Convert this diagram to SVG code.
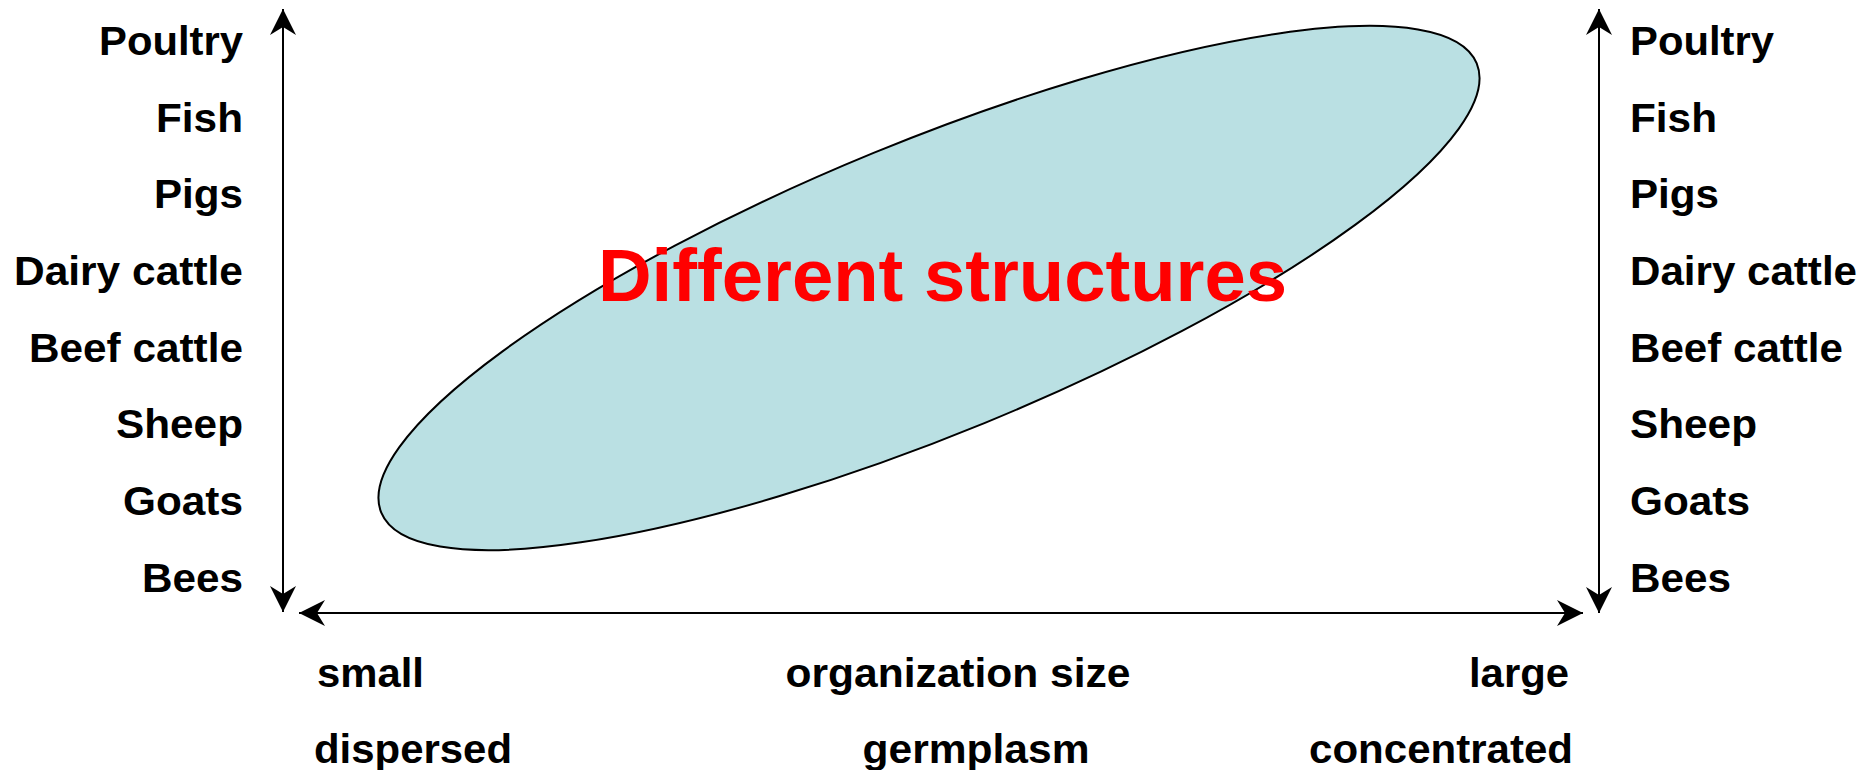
<svg xmlns="http://www.w3.org/2000/svg" width="1874" height="770" viewBox="0 0 1874 770">
  <style>
    .lbl { font-family: "Liberation Sans", Arial, sans-serif; font-weight: bold; font-size: 40px; fill: #000; }
    .end { text-anchor: end; }
    .mid { text-anchor: middle; }
    .axis { stroke: #000; stroke-width: 2; fill: none; }
    .title { font-family: "Liberation Sans", Arial, sans-serif; font-weight: bold; font-size: 75px; fill: #FF0000; }
  </style>
  <defs>
    <marker id="arr" markerUnits="userSpaceOnUse" viewBox="-27 -15 30 30" refX="0" refY="0" markerWidth="30" markerHeight="30" orient="auto-start-reverse">
      <path d="M0,0 L-26,-13 L-18,0 L-26,13 Z" fill="#000"/>
    </marker>
  </defs>
  <rect width="1874" height="770" fill="#fff"/>

  <g id="ellipse">
    <ellipse cx="929" cy="288" rx="592" ry="146" transform="rotate(-22.3 929 288)" fill="#BAE0E3" stroke="#000" stroke-width="2"/>
  </g>

  <g id="connectors">
    <path class="axis" d="M283,9 L283,612" marker-start="url(#arr)" marker-end="url(#arr)"/>
    <path class="axis" d="M1599,9 L1599,613" marker-start="url(#arr)" marker-end="url(#arr)"/>
    <path class="axis" d="M299,613 L1583,613" marker-start="url(#arr)" marker-end="url(#arr)"/>
  </g>

  <g id="title">
    <text class="title" x="598" y="301" textLength="689" lengthAdjust="spacingAndGlyphs">Different structures</text>
  </g>

  <g id="left-labels">
    <text class="lbl end" x="243" y="55" textLength="144" lengthAdjust="spacingAndGlyphs">Poultry</text>
    <text class="lbl end" x="243" y="132" textLength="87" lengthAdjust="spacingAndGlyphs">Fish</text>
    <text class="lbl end" x="243" y="208" textLength="89" lengthAdjust="spacingAndGlyphs">Pigs</text>
    <text class="lbl end" x="243" y="285" textLength="229" lengthAdjust="spacingAndGlyphs">Dairy cattle</text>
    <text class="lbl end" x="243" y="362" textLength="214" lengthAdjust="spacingAndGlyphs">Beef cattle</text>
    <text class="lbl end" x="243" y="438" textLength="127" lengthAdjust="spacingAndGlyphs">Sheep</text>
    <text class="lbl end" x="243" y="515" textLength="120" lengthAdjust="spacingAndGlyphs">Goats</text>
    <text class="lbl end" x="243" y="592" textLength="101" lengthAdjust="spacingAndGlyphs">Bees</text>
  </g>

  <g id="right-labels">
    <text class="lbl" x="1630" y="55" textLength="144" lengthAdjust="spacingAndGlyphs">Poultry</text>
    <text class="lbl" x="1630" y="132" textLength="87" lengthAdjust="spacingAndGlyphs">Fish</text>
    <text class="lbl" x="1630" y="208" textLength="89" lengthAdjust="spacingAndGlyphs">Pigs</text>
    <text class="lbl" x="1630" y="285" textLength="227" lengthAdjust="spacingAndGlyphs">Dairy cattle</text>
    <text class="lbl" x="1630" y="362" textLength="213" lengthAdjust="spacingAndGlyphs">Beef cattle</text>
    <text class="lbl" x="1630" y="438" textLength="127" lengthAdjust="spacingAndGlyphs">Sheep</text>
    <text class="lbl" x="1630" y="515" textLength="120" lengthAdjust="spacingAndGlyphs">Goats</text>
    <text class="lbl" x="1630" y="592" textLength="101" lengthAdjust="spacingAndGlyphs">Bees</text>
  </g>

  <g id="bottom-labels">
    <text class="lbl" x="317" y="687" textLength="107" lengthAdjust="spacingAndGlyphs">small</text>
    <text class="lbl" x="314" y="763" textLength="198" lengthAdjust="spacingAndGlyphs">dispersed</text>
    <text class="lbl mid" x="958" y="687" textLength="345" lengthAdjust="spacingAndGlyphs">organization size</text>
    <text class="lbl mid" x="976" y="763" textLength="227" lengthAdjust="spacingAndGlyphs">germplasm</text>
    <text class="lbl end" x="1569" y="687" textLength="100" lengthAdjust="spacingAndGlyphs">large</text>
    <text class="lbl end" x="1573" y="763" textLength="264" lengthAdjust="spacingAndGlyphs">concentrated</text>
  </g>
</svg>
